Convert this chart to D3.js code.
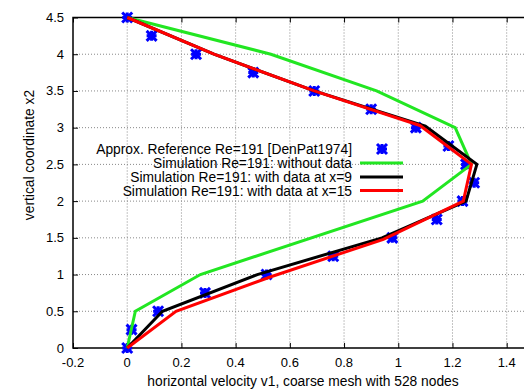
<!DOCTYPE html>
<html>
<head>
<meta charset="utf-8">
<script src="https://cdn.jsdelivr.net/npm/d3@7"></script>
<style>
  body { margin: 0; background: #fff; overflow: hidden; }
  svg { display: block; font-family: "Liberation Sans", Arial, sans-serif; }
  .grid line { stroke: #888; stroke-width: 1; stroke-dasharray: 1,2; }
  .tick-label { font-size: 13px; fill: #000; }
</style>
</head>
<body>
<svg width="524" height="391"></svg>
<script>
// reference points (approx. DenPat1974)
const refX = [0, 0.09, 0.254, 0.465, 0.69, 0.9, 1.065, 1.185, 1.25, 1.28, 1.237, 1.142, 0.978, 0.76, 0.514, 0.287, 0.114, 0.016, 0];
const refY = [4.5, 4.25, 4.0, 3.75, 3.5, 3.25, 3.0, 2.75, 2.5, 2.25, 2.0, 1.75, 1.5, 1.25, 1.0, 0.75, 0.5, 0.25, 0];

// simulation without data
const noDataX = [0, 0.53, 0.92, 1.21, 1.27, 1.09, 0.27, 0.03, 0];
const noDataY = [4.5, 4.0, 3.5, 3.0, 2.5, 2.0, 1.0, 0.5, 0];

// simulation with data at x=9
const x9X = [0, 0.32, 0.69, 1.1, 1.29, 1.25, 0.94, 0.48, 0.13, 0];
const x9Y = [4.5, 4.0, 3.5, 3.02, 2.5, 2.0, 1.5, 1.0, 0.5, 0];

// simulation with data at x=15
const x15X = [0, 0.32, 0.69, 1.08, 1.27, 1.24, 0.945, 0.53, 0.18, 0];
const x15Y = [4.5, 4.0, 3.5, 3.03, 2.5, 2.0, 1.48, 0.97, 0.5, 0];

const xTicks = [-0.2, 0, 0.2, 0.4, 0.6, 0.8, 1, 1.2, 1.4];
const yTicks = [0, 0.5, 1, 1.5, 2, 2.5, 3, 3.5, 4, 4.5];

const legendLabels = [
  "Approx. Reference Re=191 [DenPat1974]",
  "Simulation Re=191: without data",
  "Simulation Re=191: with data at x=9",
  "Simulation Re=191: with data at x=15"
];
const colors = { ref: "#0000ff", noData: "#22e622", x9: "#000000", x15: "#ff0000" };

const svg = d3.select("svg");
const plotL = 73, plotR = 533.8, plotT = 17.5, plotB = 348;

const x = d3.scaleLinear().domain([-0.2, 1.5]).range([plotL, plotR]);
const y = d3.scaleLinear().domain([0, 4.5]).range([plotB, plotT]);

// grid
const grid = svg.append("g").attr("class", "grid");
grid.selectAll(".gx").data(xTicks.filter(d => d > -0.2)).enter().append("line")
  .attr("x1", d => x(d)).attr("x2", d => x(d)).attr("y1", plotT).attr("y2", plotB);
grid.selectAll(".gy").data(yTicks.filter(d => d > 0 && d < 4.5)).enter().append("line")
  .attr("x1", plotL).attr("x2", plotR).attr("y1", d => y(d)).attr("y2", d => y(d));

// axes (ticks inward)
svg.append("g")
  .attr("transform", "translate(0," + plotB + ")")
  .call(d3.axisTop(x).tickValues(xTicks).tickSize(5).tickFormat(""))
  .call(g => g.select(".domain").remove());
svg.append("g")
  .attr("transform", "translate(0," + plotT + ")")
  .call(d3.axisBottom(x).tickValues(xTicks).tickSize(5).tickFormat(""))
  .call(g => g.select(".domain").remove());
svg.append("g")
  .attr("transform", "translate(" + plotL + ",0)")
  .call(d3.axisRight(y).tickValues(yTicks).tickSize(5).tickFormat(""))
  .call(g => g.select(".domain").remove());

// border
svg.append("path")
  .attr("d", `M${plotR},${plotT}H${plotL}V${plotB}H${plotR}`)
  .attr("fill", "none").attr("stroke", "#000").attr("stroke-width", 1.5);

// tick labels
svg.selectAll(".xl").data(xTicks).enter().append("text")
  .attr("class", "tick-label")
  .attr("x", d => x(d)).attr("y", 366.5)
  .attr("text-anchor", "middle")
  .text(d => String(d));
svg.selectAll(".yl").data(yTicks).enter().append("text")
  .attr("class", "tick-label")
  .attr("x", 64).attr("y", d => y(d) + 4.5)
  .attr("text-anchor", "end")
  .text(d => String(d));

// axis titles
svg.append("text")
  .attr("x", 303).attr("y", 386)
  .attr("text-anchor", "middle").attr("font-size", 13.8)
  .text("horizontal velocity v1, coarse mesh with 528 nodes");
svg.append("text")
  .attr("transform", "translate(34,155) rotate(-90)")
  .attr("text-anchor", "middle").attr("font-size", 13.8)
  .text("vertical coordinate x2");

// lines
const line = d3.line().x(d => x(d[0])).y(d => y(d[1]));
const series = [
  { xs: noDataX, ys: noDataY, c: colors.noData },
  { xs: x9X, ys: x9Y, c: colors.x9 },
  { xs: x15X, ys: x15Y, c: colors.x15 }
];

// star marker (plus + cross)
function star(cx, cy, r) {
  const p = d3.path();
  p.moveTo(cx - r, cy); p.lineTo(cx + r, cy);
  p.moveTo(cx, cy - r); p.lineTo(cx, cy + r);
  p.moveTo(cx - r, cy - r); p.lineTo(cx + r, cy + r);
  p.moveTo(cx - r, cy + r); p.lineTo(cx + r, cy - r);
  return p.toString();
}

svg.selectAll(".ref").data(d3.zip(refX, refY)).enter().append("path")
  .attr("d", d => star(x(d[0]), y(d[1]), 5))
  .attr("stroke", colors.ref).attr("stroke-width", 3).attr("fill", "none");

series.forEach(s => {
  svg.append("path")
    .datum(d3.zip(s.xs, s.ys))
    .attr("d", line)
    .attr("fill", "none").attr("stroke", s.c)
    .attr("stroke-width", 3).attr("stroke-linejoin", "miter");
});

// legend
const legY = [149, 163, 177, 190.5];
const leg = svg.append("g");
legendLabels.forEach((t, i) => {
  leg.append("text")
    .attr("x", 352).attr("y", legY[i] + 5)
    .attr("text-anchor", "end").attr("font-size", 13.8)
    .text(t);
});
leg.append("path")
  .attr("d", star(382, legY[0], 5))
  .attr("stroke", colors.ref).attr("stroke-width", 3).attr("fill", "none");
series.forEach((s, i) => {
  leg.append("line")
    .attr("x1", 360).attr("x2", 403)
    .attr("y1", legY[i + 1]).attr("y2", legY[i + 1])
    .attr("stroke", s.c).attr("stroke-width", 3);
});
</script>
</body>
</html>
